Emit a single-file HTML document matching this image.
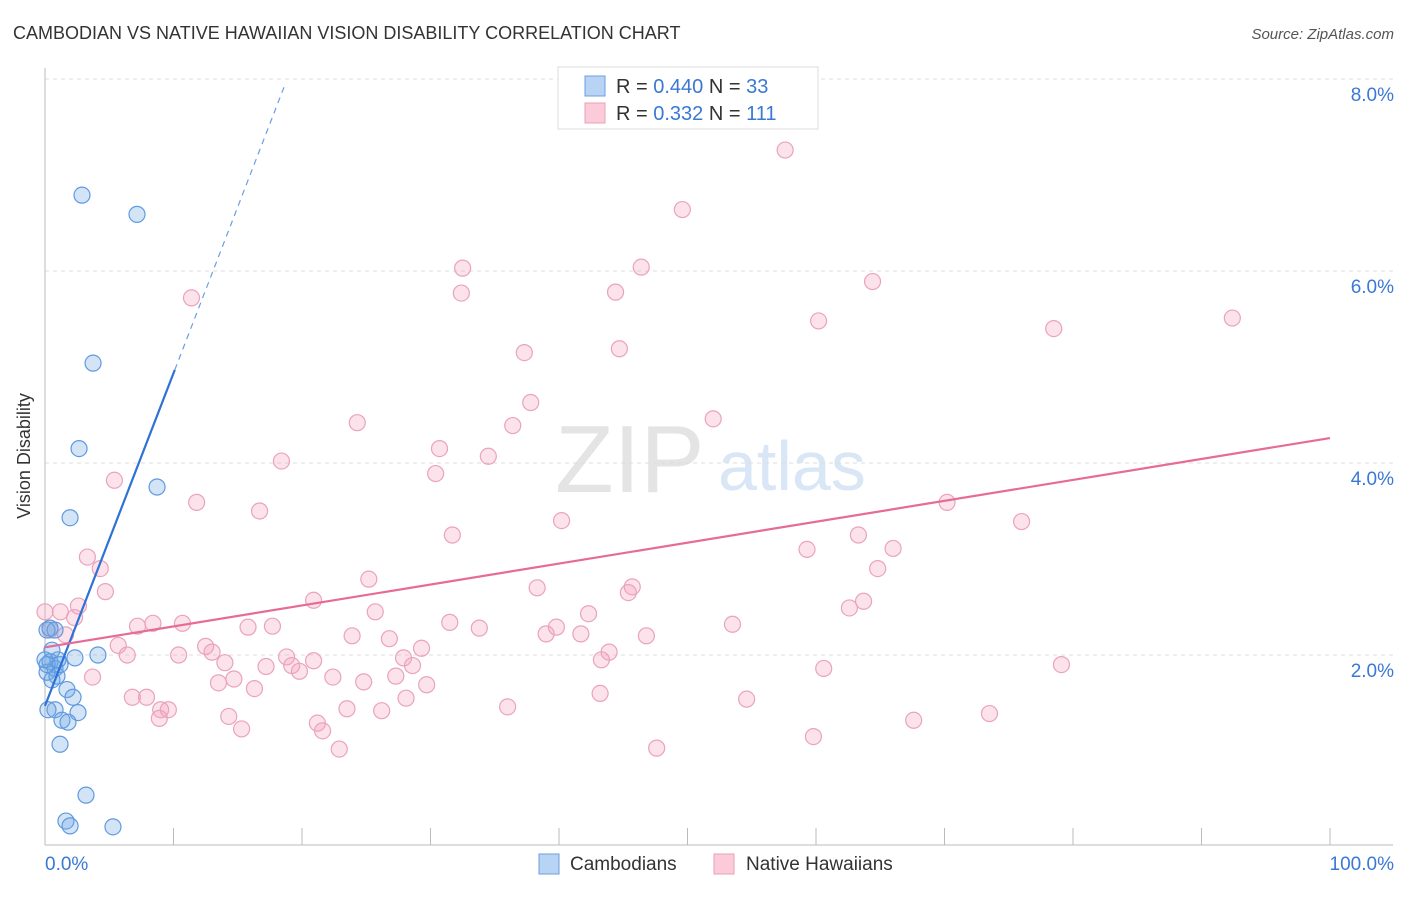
<!DOCTYPE html>
<html><head><meta charset="utf-8"><style>
body{margin:0;background:#fff;font-family:"Liberation Sans",sans-serif;}
svg text{font-family:"Liberation Sans",sans-serif;}
</style></head><body>
<svg id="c" width="1406" height="892">
<text x="13" y="39" font-size="18" fill="#333">CAMBODIAN VS NATIVE HAWAIIAN VISION DISABILITY CORRELATION CHART</text>
<text x="1394" y="39" font-size="15" fill="#555" font-style="italic" text-anchor="end">Source: ZipAtlas.com</text>
<text x="30" y="456" font-size="18" fill="#333" text-anchor="middle" transform="rotate(-90 30 456)">Vision Disability</text>
<text x="555" y="492" font-size="96" fill="#e4e4e4" font-family="Liberation Serif">ZIP</text>
<text x="718" y="490" font-size="70" fill="#d8e6f6">atlas</text>
<g id="grid"></g><g id="pts"></g><g id="lines"></g>
<g>
<rect x="558" y="67" width="260" height="62" fill="#fff" stroke="#ddd"/>
<rect x="585" y="76" width="20" height="20" fill="#b9d3f5" stroke="#6a9fe0"/>
<rect x="585" y="103" width="20" height="20" fill="#fbcbd9" stroke="#e8a0b8"/>
<text x="616" y="93" font-size="20" fill="#333">R = <tspan fill="#3a78d4">0.440</tspan>   N = <tspan fill="#3a78d4">33</tspan></text>
<text x="616" y="120" font-size="20" fill="#333">R =  <tspan fill="#3a78d4">0.332</tspan>   N = <tspan fill="#3a78d4">111</tspan></text>
</g>
<g>
<rect x="539" y="854" width="20" height="20" fill="#b9d3f5" stroke="#6a9fe0"/>
<text x="570" y="870" font-size="19" fill="#333">Cambodians</text>
<rect x="714" y="854" width="20" height="20" fill="#fbcbd9" stroke="#e8a0b8"/>
<text x="746" y="870" font-size="19" fill="#333">Native Hawaiians</text>
</g>
<text x="45" y="870" font-size="19" fill="#3a78d4">0.0%</text>
<text x="1394" y="870" font-size="19" fill="#3a78d4" text-anchor="end">100.0%</text>
</svg>
<script>
const yTicks=[2,4,6,8];
const yTickLabels=["2.0%","4.0%","6.0%","8.0%"];
const xTicks=[0,10,20,30,40,50,60,70,80,90,100];
const camX=[2.88,7.16,3.74,2.65,8.72,1.95,4.12,2.33,0.39,0.78,0.16,0.93,0.54,0.16,1.17,1.71,2.18,0.78,2.57,0.23,1.32,1.79,1.17,3.19,1.63,1.95,5.29,0.39,0.78,0.16,1.01,0,0.54];
const camY=[6.79,6.59,5.04,4.15,3.75,3.43,2.0,1.97,1.93,1.86,1.82,1.78,1.74,1.90,1.90,1.64,1.56,1.43,1.40,1.43,1.32,1.30,1.07,0.54,0.27,0.22,0.21,2.28,2.26,2.26,1.95,1.95,2.05];
const nhX=[57.6,49.6,32.5,46.4,32.4,44.4,64.4,11.4,60.2,78.5,92.4,37.3,44.7,37.8,24.3,52.0,36.4,30.7,34.5,18.4,30.4,5.4,11.8,70.2,16.7,40.2,76.0,31.7,59.3,63.3,66.0,3.3,4.3,64.8,25.2,38.3,45.7,45.4,4.7,20.9,2.6,1.2,2.3,25.7,42.3,62.6,63.7,8.4,7.2,10.7,15.8,17.7,31.5,33.8,39.8,53.5,23.9,26.8,39.0,41.7,46.8,0,0.4,1.6,5.7,6.4,12.5,13.0,10.4,29.3,18.8,20.9,27.9,43.9,43.3,79.1,60.6,14.0,17.2,19.2,19.8,28.6,27.3,22.4,24.8,3.7,14.7,13.5,29.7,16.3,6.8,7.9,28.1,43.2,54.6,9.0,9.6,8.9,14.3,23.5,26.2,36.0,21.2,21.6,15.3,22.9,47.6,59.8,67.6,73.5];
const nhY=[7.26,6.64,6.03,6.04,5.77,5.78,5.89,5.72,5.48,5.40,5.51,5.15,5.19,4.63,4.42,4.46,4.39,4.15,4.07,4.02,3.89,3.82,3.59,3.59,3.50,3.40,3.39,3.25,3.10,3.25,3.11,3.02,2.90,2.90,2.79,2.70,2.71,2.65,2.66,2.57,2.51,2.45,2.39,2.45,2.43,2.49,2.56,2.33,2.30,2.33,2.29,2.30,2.34,2.28,2.29,2.32,2.20,2.17,2.22,2.22,2.20,2.45,2.26,2.21,2.10,2.00,2.09,2.03,2.00,2.07,1.98,1.94,1.97,2.03,1.95,1.90,1.86,1.92,1.88,1.89,1.83,1.89,1.78,1.77,1.72,1.77,1.75,1.71,1.69,1.65,1.56,1.56,1.55,1.60,1.54,1.43,1.43,1.34,1.36,1.44,1.42,1.46,1.29,1.21,1.23,1.02,1.03,1.15,1.32,1.39];
const camTrend=[[0,1.47],[10.1,4.97],[18.7,7.95]];
const nhTrend=[[0,2.08],[100,4.26]];
const NS="http://www.w3.org/2000/svg";
const sx=v=>45+v*12.85, sy=v=>847-v*96;
function mk(t,a,p){const e=document.createElementNS(NS,t);for(const k in a)e.setAttribute(k,a[k]);p.appendChild(e);return e;}
const grid=document.getElementById('grid');
yTicks.forEach((t,i)=>{
 const l=mk('line',{x1:45,x2:1393,y1:sy(t),y2:sy(t),stroke:'#ddd','stroke-dasharray':'4,4'},grid);
 
 
 const tx=mk('text',{x:1394,y:sy(t)+22,'font-size':19,fill:'#3a78d4','text-anchor':'end'},grid);
 tx.textContent=yTickLabels[i];
 
 
});
const ax=mk('line',{x1:45,x2:45,y1:68,y2:845,stroke:'#bbb'},grid);


const bx=mk('line',{x1:45,x2:1393,y1:845,y2:845,stroke:'#bbb'},grid);


xTicks.forEach(t=>{
 const l=mk('line',{x1:sx(t),x2:sx(t),y1:828,y2:845,stroke:'#bbb'},grid);
 
 
});
const pts=document.getElementById('pts');
nhX.forEach((x,i)=>{
 const c=mk('circle',{cx:sx(x),cy:sy(nhY[i]),r:8,fill:'rgba(245,160,190,0.3)',stroke:'#eaa3bb','stroke-width':1.2},pts);
 
 
});
camX.forEach((x,i)=>{
 const c=mk('circle',{cx:sx(x),cy:sy(camY[i]),r:8,fill:'rgba(110,165,230,0.3)',stroke:'#5f9ae0','stroke-width':1.2},pts);
 
 
});
const lines=document.getElementById('lines');
const b1=mk('line',{x1:sx(camTrend[0][0]),y1:sy(camTrend[0][1]),x2:sx(camTrend[1][0]),y2:sy(camTrend[1][1]),stroke:'#2f72d6','stroke-width':2.2},lines);


const b2=mk('line',{x1:sx(camTrend[1][0]),y1:sy(camTrend[1][1]),x2:sx(camTrend[2][0]),y2:sy(camTrend[2][1]),stroke:'#6a9fe0','stroke-width':1.2,'stroke-dasharray':'6,5'},lines);


const p1=mk('line',{x1:sx(nhTrend[0][0]),y1:sy(nhTrend[0][1]),x2:sx(nhTrend[1][0]),y2:sy(nhTrend[1][1]),stroke:'#e66b97','stroke-width':2.2},lines);


</script>
</body></html>
